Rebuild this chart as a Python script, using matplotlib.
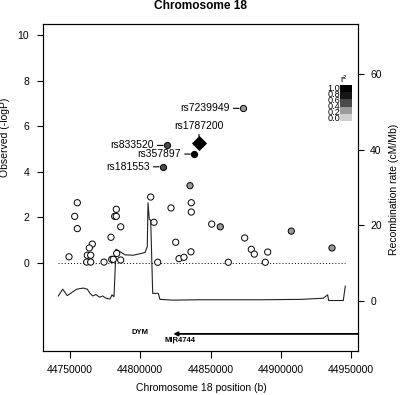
import matplotlib
matplotlib.use('Agg')
import matplotlib.pyplot as plt
import numpy as np
from matplotlib.patches import Rectangle

plt.rcParams['font.family'] = ['Liberation Sans', 'DejaVu Sans']

# ---------------- data ----------------
snp_pos = [44749290, 44755200, 44753350, 44755200, 44765870, 44763740, 44762310,
           44764730, 44761880, 44764730, 44774200, 44779180, 44779680, 44780820,
           44782950, 44781810, 44782950, 44786080, 44783240, 44786080, 44807430,
           44809780, 44812420, 44821880, 44825230, 44827580, 44831130, 44835400,
           44836330, 44836330, 44836120, 44850850, 44856970, 44862660, 44874330,
           44879030, 44881170, 44890700, 44888990, 44907500, 44936470]
snp_logp = [0.26, 2.64, 2.04, 1.50, 0.82, 0.65, 0.33,
            0.33, 0.03, 0.03, 0.03, 1.12, 0.15, 0.15,
            2.35, 2.04, 2.04, 1.58, 0.41, 0.12, 2.89,
            1.78, 0.02, 2.41, 0.90, 0.18, 0.24, 3.39,
            2.64, 2.23, 0.48, 1.70, 1.58, 0.02, 1.09,
            0.59, 0.38, 0.47, 0.02, 1.39, 0.65]
snp_r2 = [np.nan] * 27 + [0.3] + [np.nan] * 4 + [0.3] + [np.nan] * 6 + [0.3, 0.3]

lab_names = ['rs7239949', 'rs1787200', 'rs833520', 'rs357897', 'rs181553']
lab_pos = [44872910, 44841810, 44818820, 44838250, 44815970]
lab_logp = [6.79, 5.25, 5.16, 4.78, 4.22]
lab_r2 = [0.3, 1.0, 0.5, 0.9, 0.5]
index_snp = 'rs1787200'

rec_pos = [44741670, 44744800, 44748080, 44751210, 44754770, 44759470, 44762310,
           44764230, 44766160, 44768500, 44770850, 44773270, 44775620, 44778470,
           44779890, 44781310, 44782740, 44789140, 44795050, 44803380, 44805010,
           44805510, 44806440, 44807430, 44808860, 44812840, 44814050, 44823520,
           44842520, 44885220, 44913690, 44930270, 44933400, 44934110, 44944510,
           44945930]
rec_rate = [1.2, 3.0, 1.3, 2.1, 3.0, 3.3, 3.0,
            1.9, 1.2, 1.6, 0.9, 1.2, 0.6, 0.4,
            1.5, 1.0, 13.6, 12.1, 12.0, 12.7, 14.3,
            25.9, 21.5, 21.3, 1.9, 1.9, 0.3, 0.1,
            0.2, 0.2, 0.3, 0.6, 1.5, 0.0, 0.0,
            3.8]

gene_names = ['DYM', 'MIR4744']
gene_start = [44823500, 44823300]
gene_end = [44990000, 44823400]

legend_levels = [1.0, 0.8, 0.6, 0.4, 0.2, 0.0]
band_colors = ['#000000', '#161616', '#4a4a4a', '#9a9a9a', '#cfcfcf']
x_ticks = [44750000, 44800000, 44850000, 44900000, 44950000]
left_ticks = [0, 2, 4, 6, 8, 10]
right_ticks = [0, 20, 40, 60]


def r2_color(r):
    if r is None or np.isnan(r):
        return 'white'
    for i in range(len(band_colors)):
        if r >= legend_levels[i + 1]:
            return band_colors[i]
    return band_colors[-1]


# ---------------- figure ----------------
fig = plt.figure(figsize=(4.0, 3.95), dpi=100)
ax = fig.add_axes([0.1075, 0.1121, 0.7875, 0.8271])
ax2 = ax.twinx()
ax.set_zorder(ax2.get_zorder() + 1)
ax.patch.set_visible(False)

XMIN, XMAX = 44730780, 44954980
ax.set_xlim(XMIN, XMAX)
ax.set_ylim(-3.87, 10.5)
ax2.set_ylim(-13.3, 73.25)

# recombination rate
ax2.plot(rec_pos, rec_rate, color='#222222', lw=0.8)

# significance baseline
ax.hlines(0, min(rec_pos), max(rec_pos), colors='black', lw=0.7,
          linestyles=(0, (1, 2.2)))

# SNPs
ax.scatter(snp_pos, snp_logp, s=20, c=[r2_color(r) for r in snp_r2],
           edgecolors='black', linewidths=0.7, zorder=4)

for name, x, y, r in zip(lab_names, lab_pos, lab_logp, lab_r2):
    if name == index_snp:
        ax.plot([x], [y], marker='D', ms=7.6, color=r2_color(r), mec='black',
                mew=0.6, zorder=5)
        ax.annotate(name, xy=(x, y), xytext=(0, 9), textcoords='offset points',
                    ha='center', va='bottom', fontsize=7.5, zorder=3,
                    arrowprops=dict(arrowstyle='-', lw=0.8, color='black',
                                    shrinkA=0.5, shrinkB=5))
    else:
        ax.scatter([x], [y], s=20, c=[r2_color(r)], edgecolors='black',
                   linewidths=0.7, zorder=5)
        ax.annotate(name, xy=(x, y), xytext=(-9.5, 0), textcoords='offset points',
                    ha='right', va='center', fontsize=7.5, zorder=3,
                    arrowprops=dict(arrowstyle='-', lw=0.8, color='black',
                                    shrinkA=0.8, shrinkB=2.6))

# genes
dym_y = -3.13
ax.annotate('', xy=(gene_start[0], dym_y), xytext=(min(gene_end[0], XMAX), dym_y),
            arrowprops=dict(arrowstyle='-|>', color='black', lw=1.3,
                            mutation_scale=6, shrinkA=0, shrinkB=0))
ax.annotate(gene_names[0], xy=(gene_start[0], dym_y), xytext=(-18, 1.2),
            textcoords='offset points', ha='right', va='center',
            fontsize=5.5, fontweight='bold')
mir_y = -3.41
ax.vlines(gene_start[1], -3.30, -3.52, colors='black', lw=0.8)
ax.annotate(gene_names[1], xy=(gene_start[1], mir_y), xytext=(5, 0),
            textcoords='offset points', ha='center', va='center',
            fontsize=5.5, fontweight='bold')

# r^2 legend
lx0, lx1 = 340 / 400, 351.7 / 400
ly_top, ly_bot = 1 - 85 / 395, 1 - 121 / 395
bh = (ly_top - ly_bot) / len(band_colors)
for i, col in enumerate(band_colors):
    fig.add_artist(Rectangle((lx0, ly_top - (i + 1) * bh), lx1 - lx0, bh,
                             transform=fig.transFigure, facecolor=col,
                             edgecolor='none'))
for i, lev in enumerate(legend_levels):
    fig.text(340.5 / 400, 1 - (88.3 + i * 6.1) / 395, f'{lev:.1f}',
             ha='right', va='center', fontsize=6.6)
fig.text(343 / 400, 1 - 80 / 395, 'r²', ha='center', va='center', fontsize=6.6)

# axes styling
ax.set_xticks(x_ticks)
ax.set_xticklabels([str(t) for t in x_ticks])
ax.set_yticks(left_ticks)
ax2.set_yticks(right_ticks)
ax.tick_params(axis='x', direction='out', length=5, width=0.8, labelsize=7.5, pad=5.5)
ax.tick_params(axis='y', direction='out', length=4.5, width=0.8, labelsize=7.5, pad=5.5)
ax2.tick_params(axis='y', direction='out', length=4.5, width=0.8, labelsize=7.5, pad=4.3)
for a in (ax, ax2):
    for sp in a.spines.values():
        sp.set_linewidth(0.8)

fig.text(201 / 400, 1 - 5.8 / 395, 'Chromosome 18', ha='center', va='center',
         fontsize=8.6, fontweight='bold')
fig.text(201 / 400, 1 - 388 / 395, 'Chromosome 18 position (b)', ha='center',
         va='center', fontsize=7.5)
fig.text(5.3 / 400, 1 - 137.5 / 395, 'Observed (-logP)', ha='center', va='center',
         rotation=90, fontsize=7.5)
fig.text(394 / 400, 1 - 189 / 395, 'Recombination rate (cM/Mb)', ha='center',
         va='center', rotation=90, fontsize=7.5)

fig.savefig('out.png', dpi=100)
